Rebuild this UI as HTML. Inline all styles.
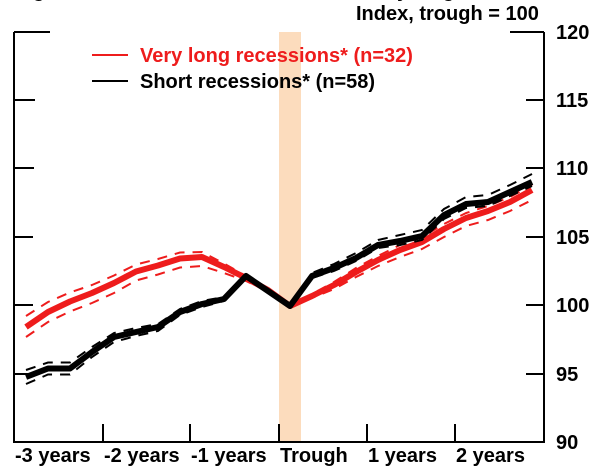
<!DOCTYPE html>
<html>
<head>
<meta charset="utf-8">
<style>
html,body{margin:0;padding:0;background:#fff;}
svg{display:block;}
text{font-family:"Liberation Sans",Arial,sans-serif;font-weight:bold;}
</style>
</head>
<body>
<svg width="600" height="467" viewBox="0 0 600 467" xmlns="http://www.w3.org/2000/svg">
  <rect x="0" y="0" width="600" height="467" fill="#fff"/>
  <!-- cut-off title -->
  <text x="15" y="-3" font-size="20" fill="#000">Figure 4: Real GDP around recessions by length of recession</text>

  <!-- recession band -->
  <rect x="279" y="32" width="22" height="410" fill="#fcdcbd"/>

  <!-- axes -->
  <g stroke="#000" stroke-width="2" fill="none">
    <line x1="14" y1="32" x2="14" y2="443"/>
    <line x1="544" y1="32" x2="544" y2="443"/>
    <line x1="13" y1="442" x2="545" y2="442"/>
    <!-- 120 ticks -->
    <line x1="14" y1="32" x2="50" y2="32"/>
    <line x1="510" y1="32" x2="544" y2="32"/>
    <!-- left ticks -->
    <line x1="14" y1="100" x2="35" y2="100"/>
    <line x1="14" y1="168" x2="34" y2="168"/>
    <line x1="14" y1="237" x2="33" y2="237"/>
    <line x1="14" y1="305" x2="33" y2="305"/>
    <line x1="14" y1="374" x2="33" y2="374"/>
    <!-- right ticks -->
    <line x1="526" y1="100" x2="544" y2="100"/>
    <line x1="526" y1="168" x2="544" y2="168"/>
    <line x1="526" y1="237" x2="544" y2="237"/>
    <line x1="526" y1="305" x2="544" y2="305"/>
    <line x1="526" y1="374" x2="544" y2="374"/>
    <!-- bottom ticks -->
    <line x1="103" y1="424" x2="103" y2="442"/>
    <line x1="190" y1="424" x2="190" y2="442"/>
    <line x1="279" y1="424" x2="279" y2="442"/>
    <line x1="367" y1="424" x2="367" y2="442"/>
    <line x1="455" y1="424" x2="455" y2="442"/>
  </g>

  <!-- y labels -->
  <g font-size="20" fill="#000">
    <text x="556" y="39">120</text>
    <text x="556" y="107">115</text>
    <text x="556" y="175">110</text>
    <text x="556" y="244">105</text>
    <text x="556" y="312">100</text>
    <text x="556" y="381">95</text>
    <text x="556" y="449">90</text>
  </g>
  <text x="356" y="20" font-size="20" fill="#000">Index, trough = 100</text>

  <!-- x labels -->
  <g font-size="20" fill="#000">
    <text x="15" y="462">-3 years</text>
    <text x="104" y="462">-2 years</text>
    <text x="191" y="462">-1 years</text>
    <text x="280" y="462">Trough</text>
    <text x="368" y="462">1 years</text>
    <text x="456" y="462">2 years</text>
  </g>

  <!-- legend -->
  <line x1="92" y1="55" x2="128" y2="55" stroke="#ee1c1c" stroke-width="2"/>
  <text x="140" y="62" font-size="20" fill="#ee1c1c">Very long recessions* (n=32)</text>
  <line x1="92" y1="81" x2="128" y2="81" stroke="#000" stroke-width="2"/>
  <text x="140" y="88" font-size="20" fill="#000">Short recessions* (n=58)</text>

  <!-- red dashed bands -->
  <g fill="none" stroke="#ee1c1c" stroke-width="2" stroke-dasharray="10,8">
    <polyline points="26,316 48,302 70,292.5 92,285 114,275.5 136,264.5 158,259 180,252.5 202,252 224,263.5 246,276 268,289 290,306 312,294 334,282 356,268 378,256 400,245 422,237 444,224 466,213 488,206 510,197 532,185"/>
    <polyline points="26,337 48,322 70,311.5 92,303 114,293 136,280.5 158,274.5 180,267.5 202,266 224,273 246,281 268,291.5 290,306 312,298 334,289 356,277 378,266 400,257 422,249 444,237 466,226 488,220 510,211 532,200"/>
  </g>
  <!-- red main -->
  <polyline fill="none" stroke="#ee1c1c" stroke-width="6" stroke-linejoin="round" points="26,327 48,312 70,301.5 92,293 114,283 136,271.5 158,265.5 180,258.5 202,257 224,267 246,278 268,290 290,306 312,296 334,285 356,272 378,260 400,250 422,242 444,229 466,218 488,211 510,202 532,190"/>

  <!-- black dashed bands -->
  <g fill="none" stroke="#000" stroke-width="2" stroke-dasharray="10,8">
    <polyline points="26,370 48,362.5 70,362.5 92,347 114,333 136,328 158,324 180,309 202,301 224,297 246,275 268,290 290,306 312,273 334,264 356,253 378,240 400,235 422,230 444,209 466,197 488,195 510,185 532,174"/>
    <polyline points="26,384 48,374.5 70,374.5 92,357 114,342 136,336 158,331 180,315 202,307 224,301 246,277 268,292 290,306 312,278 334,271 356,261 378,248 400,245 422,240 444,219 466,208 488,206 510,196 532,186"/>
  </g>
  <!-- black main -->
  <polyline fill="none" stroke="#000" stroke-width="6" stroke-linejoin="round" points="26,377 48,368.5 70,368.5 92,352 114,337 136,332 158,327 180,312 202,304 224,299 246,276 268,291 290,306 312,276 334,268 356,258 378,245 400,241 422,236 444,215 466,204 488,202 510,192 532,182"/>
</svg>
</body>
</html>
